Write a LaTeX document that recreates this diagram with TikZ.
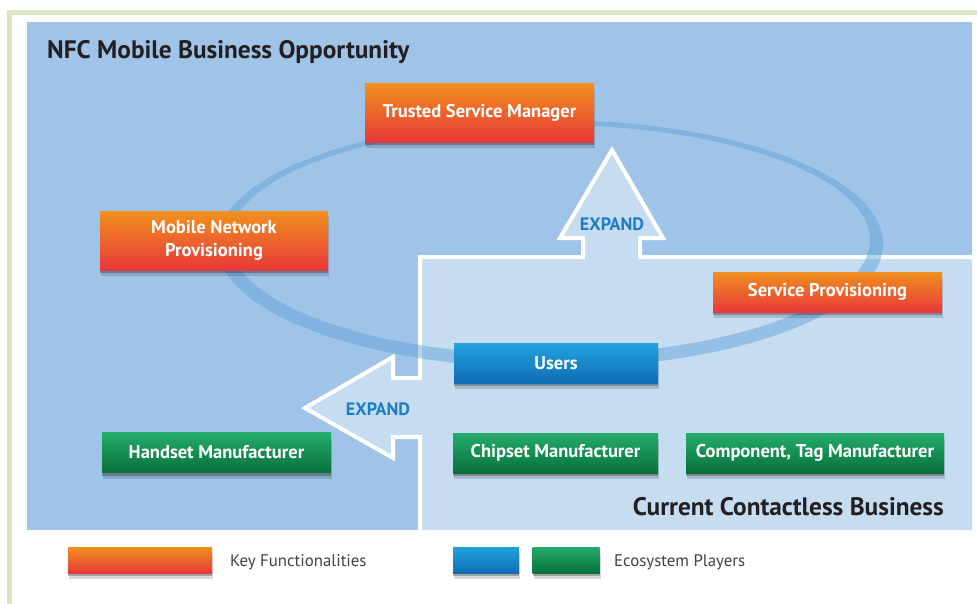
\documentclass[tikz,border=0pt]{standalone}
\usepackage{fontspec}
\setmainfont{PT Sans}
\usetikzlibrary{shadows}
\definecolor{bgblue}{HTML}{A0C4E8}
\definecolor{ltblue}{HTML}{C6DCF1}
\definecolor{framec}{HTML}{DCE6C4}
\definecolor{ringc}{HTML}{5A9FD8}
\definecolor{orT}{HTML}{F0901E}
\definecolor{orB}{HTML}{E8383A}
\definecolor{blT}{HTML}{22A4DE}
\definecolor{blB}{HTML}{106CB4}
\definecolor{grT}{HTML}{24AC6C}
\definecolor{grB}{HTML}{08703A}
\definecolor{expc}{HTML}{1B7DC5}
\definecolor{titc}{HTML}{231F20}
\tikzset{
  boxshadow/.style={drop shadow={shadow xshift=0pt, shadow yshift=-3pt, opacity=.25, fill=black},
                    drop shadow={shadow xshift=1pt, shadow yshift=-6pt, opacity=.15, fill=black}},
  boxbase/.style={boxshadow, inner sep=0pt, text=white, align=center,
                  font=\bfseries\fontsize{18.5}{23}\selectfont},
  orangebox/.style={boxbase, top color=orT, bottom color=orB},
  bluebox/.style={boxbase, top color=blT, bottom color=blB},
  greenbox/.style={boxbase, top color=grT, bottom color=grB},
  expandtxt/.style={inner sep=0pt, text=expc, font=\bfseries\fontsize{18}{21}\selectfont},
  titletxt/.style={inner sep=0pt, text=titc, font=\bfseries\fontsize{25.3}{29}\selectfont},
  legendtxt/.style={inner sep=0pt, text=titc!85, font=\fontsize{16.8}{19}\selectfont},
}
\begin{document}
\begin{tikzpicture}[x=1pt,y=-1pt]
\useasboundingbox (0,0) rectangle (977,603);
\fill[white] (0,0) rectangle (977,603);
% outer frame
\draw[framec, line width=5pt] (9.5,610) -- (9.5,12) -- (985,12);
% NFC region
\fill[bgblue] (27,22) rectangle (972,530);
% current contactless region with expand arrows
\fill[ltblue] (420,530) -- (420,437) -- (393,437) -- (393,458) -- (305,408) -- (393,357)
  -- (393,378) -- (420,378) -- (420,257) -- (583,257) -- (583,238) -- (560,238)
  -- (612,150) -- (663,238) -- (640,238) -- (640,257) -- (972,257) -- (972,530) -- cycle;
\draw[white, line width=4pt, line join=miter] (420,530) -- (420,437) -- (393,437) -- (393,458) -- (305,408) -- (393,357)
  -- (393,378) -- (420,378) -- (420,257) -- (583,257) -- (583,238) -- (560,238)
  -- (612,150) -- (663,238) -- (640,238) -- (640,257) -- (972,257);
% ring
\fill[ringc, opacity=.45, even odd rule] (550,244) ellipse [x radius=333, y radius=124]
  (550,240) ellipse [x radius=320, y radius=115];
% expand labels
\node[expandtxt] (e1) at (612,224) {EXPAND};
\node[expandtxt] (e2) at (378,409) {EXPAND};
% titles
\node[titletxt, anchor=west] (t1) at (47,52) {NFC Mobile Business Opportunity};
\node[titletxt, anchor=east] (t2) at (944,507) {Current Contactless Business};
% boxes
\node[orangebox, minimum width=229pt, minimum height=59pt] (tsm) at (479.5,112.5) {Trusted Service Manager};
\node[orangebox, minimum width=228pt, minimum height=59pt] (mnp) at (214,240.5) {Mobile Network\\Provisioning};
\node[orangebox, minimum width=229pt, minimum height=40pt] (sp) at (827.5,292) {Service Provisioning};
\node[bluebox, minimum width=204pt, minimum height=40pt] (us) at (556,363) {Users};
\node[greenbox, minimum width=229pt, minimum height=40pt] (hm) at (216.5,452.5) {Handset Manufacturer};
\node[greenbox, minimum width=205pt, minimum height=40pt] (cm) at (555.5,453) {Chipset Manufacturer};
\node[greenbox, minimum width=258pt, minimum height=40pt] (ctm) at (815,453) {Component, Tag Manufacturer};
% legend
\node[orangebox, minimum width=144pt, minimum height=26pt] (lo) at (140,560) {};
\node[legendtxt, anchor=west] (lt1) at (230,562) {Key Functionalities};
\node[bluebox, minimum width=66pt, minimum height=26pt] (lb) at (486,560) {};
\node[greenbox, minimum width=67pt, minimum height=26pt] (lg) at (566,560) {};
\node[legendtxt, anchor=west] (lt2) at (614,562) {Ecosystem Players};
\end{tikzpicture}
\end{document}
